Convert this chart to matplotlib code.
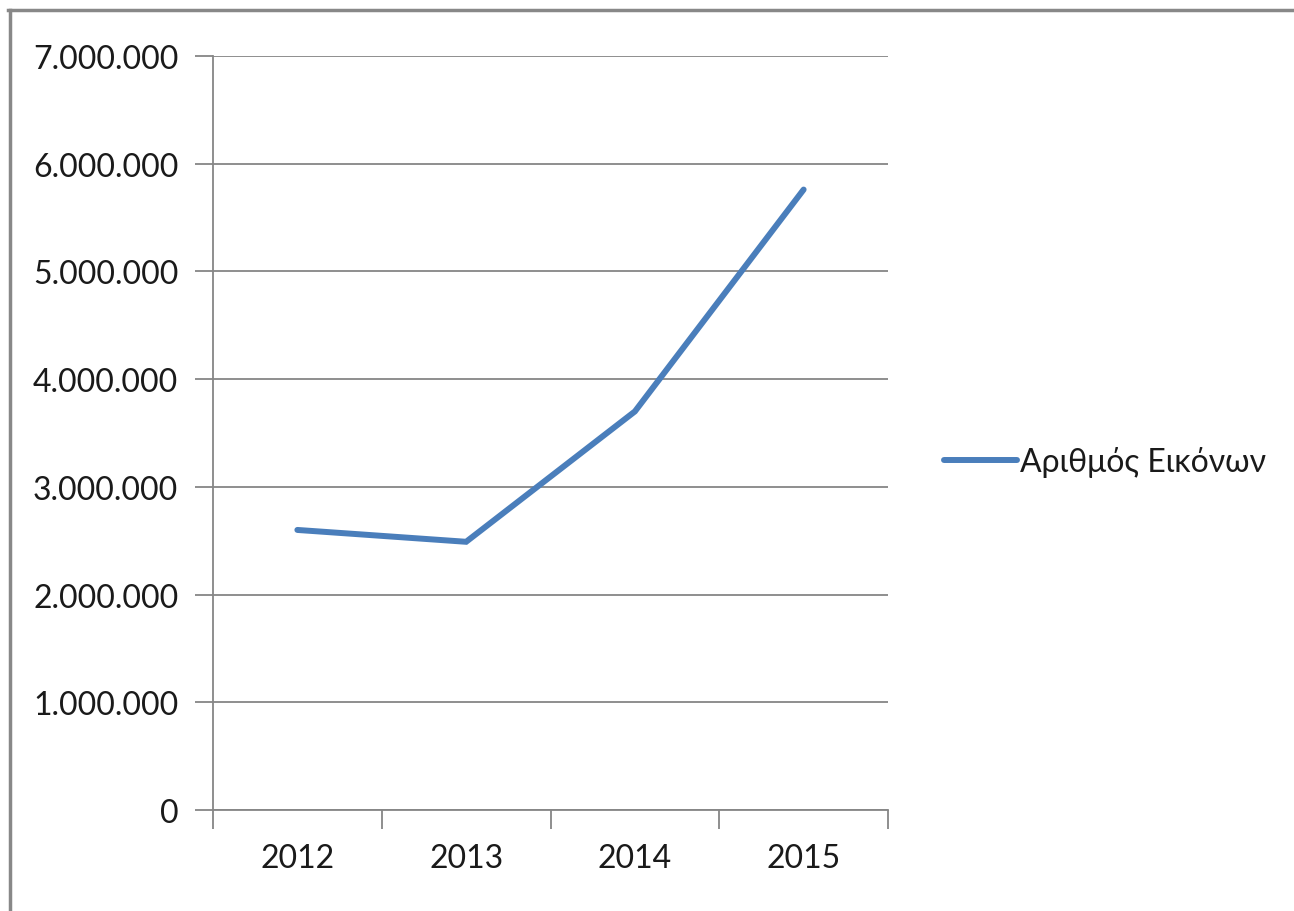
import matplotlib
matplotlib.use("Agg")
import matplotlib.pyplot as plt
from matplotlib.lines import Line2D
from matplotlib.ticker import FuncFormatter, FixedLocator

years = ["2012", "2013", "2014", "2015"]
images = [2600000, 2490000, 3700000, 5760000]
yticks = [0, 1000000, 2000000, 3000000, 4000000, 5000000, 6000000, 7000000]
series_name = "Αριθμός Εικόνων"

W, H = 1294, 912
fig = plt.figure(figsize=(W / 100, H / 100), dpi=100)
fig.patch.set_facecolor("white")
plt.rcParams['font.family'] = ['Lato', 'DejaVu Sans']
FS = 23

ax = fig.add_axes([213 / W, 1 - 811 / H, (888 - 213) / W, (811 - 57) / H])
x = [i + 0.5 for i in range(len(years))]
line_color = "#4a7ebb"
ax.plot(x, images, color=line_color, lw=4.3, solid_capstyle="round", solid_joinstyle="miter", zorder=3)

ax.set_xlim(0, len(years))
ax.set_ylim(0, 7000000)
ax.set_yticks(yticks)
ax.yaxis.set_major_formatter(FuncFormatter(lambda v, p: f"{int(v):,}".replace(",", ".")))
ax.xaxis.set_major_locator(FixedLocator(range(len(years) + 1)))
ax.xaxis.set_minor_locator(FixedLocator(x))
ax.set_xticklabels([""] * (len(years) + 1))
ax.set_xticklabels(years, minor=True)
ax.tick_params(axis="x", which="minor", length=0, pad=24, labelsize=FS, labelcolor="#1a1a1a")
ax.tick_params(axis="x", which="major", length=14, width=1.3, color="#868686")
ax.tick_params(axis="y", length=13, width=1.3, color="#868686", labelsize=FS, pad=12, labelcolor="#1a1a1a")
ax.grid(axis="y", color="#868686", lw=1.3)
ax.set_axisbelow(True)
for s in ["top", "right"]:
    ax.spines[s].set_visible(False)
for s in ["left", "bottom"]:
    ax.spines[s].set_color("#868686")
    ax.spines[s].set_linewidth(1.3)

handle = Line2D([], [], color=line_color, lw=4.3, solid_capstyle="round")
fig.legend([handle], [series_name], loc="center left", bbox_to_anchor=(915 / W, 1 - 463 / H),
           frameon=False, fontsize=FS, labelcolor="#1a1a1a", handlelength=2.3, handletextpad=0.1)

# outer frame (top and left only)
fig.add_artist(Line2D([9.5 / W, 9.5 / W], [0, 1 - 10.5 / H], transform=fig.transFigure, color="#888888", lw=2.5))
fig.add_artist(Line2D([8 / W, 1], [1 - 10.5 / H, 1 - 10.5 / H], transform=fig.transFigure, color="#888888", lw=2.5))

fig.savefig("out.png", dpi=100)
